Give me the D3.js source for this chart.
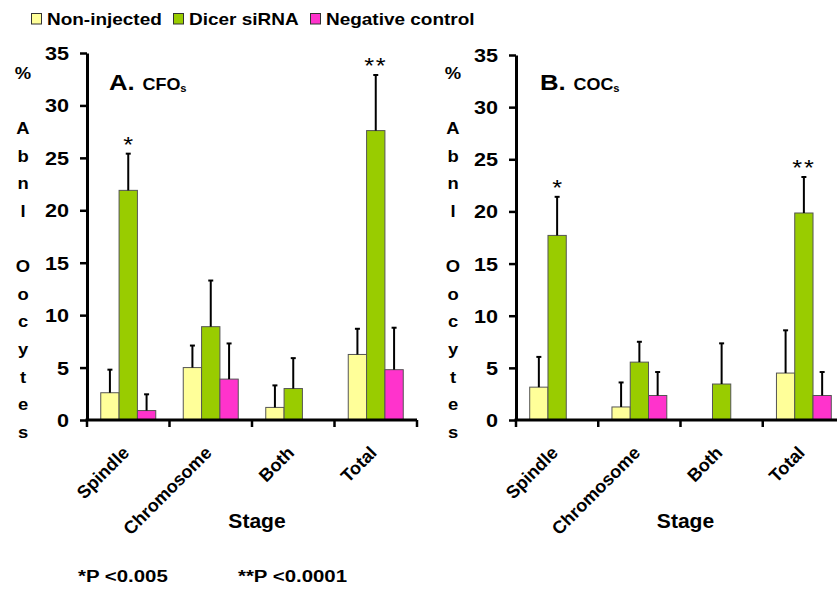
<!DOCTYPE html>
<html><head><meta charset="utf-8">
<script src="https://cdn.jsdelivr.net/npm/d3@7"></script>
<style>
html,body{margin:0;padding:0;background:#fff;}
svg{display:block;font-family:"Liberation Sans",Arial,Helvetica,sans-serif;}
</style></head>
<body><svg id="chart" width="837" height="590"></svg>
<script>
// ---- data ----
const categories = ["Spindle", "Chromosome", "Both", "Total"];
const seriesNames = ["Non-injected", "Dicer siRNA", "Negative control"];
const seriesColors = ["#FFFF99", "#99CC00", "#FF33CC"];
const yTicks = [0, 5, 10, 15, 20, 25, 30, 35];

// Panel A: CFOs
const cfoNonInjected = [2.6, 5.0, 1.2, 6.25];
const cfoDicer       = [21.9, 8.9, 3.0, 27.6];
const cfoNegative    = [0.9, 3.9, 0, 4.8];
const cfoErrNonInjected = [2.2, 2.1, 2.1, 2.45];
const cfoErrDicer       = [3.5, 4.4, 2.9, 5.3];
const cfoErrNegative    = [1.55, 3.4, 0, 4.0];
const cfoSig = ["*", "", "", "**"];

// Panel B: COCs
const cocNonInjected = [3.15, 1.25, 0, 4.5];
const cocDicer       = [17.7, 5.55, 3.45, 19.85];
const cocNegative    = [0, 2.35, 0, 2.35];
const cocErrNonInjected = [2.9, 2.35, 0, 4.1];
const cocErrDicer       = [3.7, 1.95, 3.9, 3.45];
const cocErrNegative    = [0, 2.25, 0, 2.25];
const cocSig = ["*", "", "", "**"];

const yAxisTitle = "% Abnl Oocytes";
const xAxisTitle = "Stage";
const footnotes = ["*P <0.005", "**P <0.0001"];

// ---- layout ----
const svg = d3.select("#chart");
const FONT_SX = 1.15;

function txt(g, x, y, s, o = {}) {
  return g.append("text")
    .attr("transform", `translate(${x},${y}) scale(${o.sx ?? FONT_SX},1)`)
    .attr("text-anchor", o.anchor || "start")
    .attr("font-size", o.size || 16)
    .attr("font-weight", o.weight || "bold")
    .attr("fill", "#000")
    .text(s);
}

const panels = [
  { title: "A.", sub: "CFO", vals: [cfoNonInjected, cfoDicer, cfoNegative],
    errs: [cfoErrNonInjected, cfoErrDicer, cfoErrNegative], sig: cfoSig,
    x0: 87, x1: 417, yTop: 53, yBase: 420, yLabelX: 23, titleDx: 22 },
  { title: "B.", sub: "COC", vals: [cocNonInjected, cocDicer, cocNegative],
    errs: [cocErrNonInjected, cocErrDicer, cocErrNegative], sig: cocSig,
    x0: 516, x1: 845, yTop: 55, yBase: 420, yLabelX: 453, titleDx: 24 }
];

panels.forEach(p => {
  const g = svg.append("g");
  const x = d3.scaleBand().domain(categories).range([p.x0, p.x1]).paddingInner(0).paddingOuter(0);
  const bw = x.bandwidth();
  const x1 = d3.scaleBand().domain(d3.range(seriesNames.length)).range([bw / 6, bw * 5 / 6]).padding(0);
  const y = d3.scaleLinear().domain([0, 35]).range([p.yBase, p.yTop]);

  // bars
  seriesNames.forEach((s, si) => {
    categories.forEach((c, ci) => {
      const v = p.vals[si][ci];
      if (v <= 0) return;
      g.append("rect")
        .attr("x", x(c) + x1(si))
        .attr("y", y(v))
        .attr("width", x1.bandwidth())
        .attr("height", y(0) - y(v))
        .attr("fill", seriesColors[si])
        .attr("stroke", "#555")
        .attr("stroke-width", 1);
    });
  });

  // error bars
  seriesNames.forEach((s, si) => {
    categories.forEach((c, ci) => {
      const v = p.vals[si][ci], e = p.errs[si][ci];
      if (v <= 0 || e <= 0) return;
      const cx = x(c) + x1(si) + x1.bandwidth() / 2;
      g.append("line").attr("x1", cx).attr("x2", cx).attr("y1", y(v)).attr("y2", y(v + e))
        .attr("stroke", "#000").attr("stroke-width", 2);
      g.append("line").attr("x1", cx - 2.5).attr("x2", cx + 2.5).attr("y1", y(v + e)).attr("y2", y(v + e))
        .attr("stroke", "#000").attr("stroke-width", 2);
    });
  });

  // significance markers on Dicer series
  categories.forEach((c, ci) => {
    const m = p.sig[ci];
    if (!m) return;
    const v = p.vals[1][ci] + p.errs[1][ci];
    const cx = x(c) + x1(1) + x1.bandwidth() / 2;
    txt(g, cx, y(v) - 2, m, { size: 22, weight: "normal", anchor: "middle" })
      .attr("letter-spacing", m.length > 1 ? 1.5 : 0);
  });

  // y axis
  const ya = g.append("g").attr("transform", `translate(${p.x0},0)`)
    .call(d3.axisLeft(y).tickValues(yTicks).tickSize(7).tickSizeOuter(0).tickFormat(d => d));
  ya.select(".domain").attr("stroke", "#000").attr("stroke-width", 3);
  ya.selectAll(".tick line").attr("stroke", "#000").attr("stroke-width", 2.5);
  ya.selectAll(".tick text")
    .attr("x", -18 / 1.2).attr("dy", "0.36em")
    .attr("transform", "scale(1.2,1)")
    .attr("font-size", 18).attr("font-weight", "bold")
    .attr("font-family", "'Liberation Sans',Arial,sans-serif")
    .attr("fill", "#000");

  // x axis line + boundary ticks
  g.append("line").attr("x1", p.x0 - 1.5).attr("x2", p.x1).attr("y1", y(0)).attr("y2", y(0))
    .attr("stroke", "#000").attr("stroke-width", 3);
  const bounds = categories.map(c => x(c)).concat([x.range()[1]]);
  bounds.forEach(bx => {
    g.append("line").attr("x1", bx).attr("x2", bx).attr("y1", y(0)).attr("y2", y(0) + 7)
      .attr("stroke", "#000").attr("stroke-width", 2.5);
  });

  // category labels (rotated)
  categories.forEach(c => {
    const cx = x(c) + bw / 2 + 2;
    g.append("text")
      .attr("transform", `translate(${cx},454) rotate(-45)`)
      .attr("text-anchor", "end")
      .attr("font-size", 18).attr("font-weight", "bold")
      .text(c);
  });

  // x axis title
  txt(g, (p.x0 + p.x1) / 2 + 5, 528, xAxisTitle, { size: 19.5, anchor: "middle", sx: 1.08 });

  // y axis title (stacked letters)
  yAxisTitle.split("").forEach((ch, i) => {
    if (ch === " ") return;
    txt(g, p.yLabelX, 79 + i * 27.6, ch, { size: 16, anchor: "middle" });
  });

  // panel title
  const t = g.append("text")
    .attr("transform", `translate(${p.x0 + p.titleDx},90) scale(1.12,1)`)
    .attr("font-weight", "bold");
  t.append("tspan").attr("font-size", 23).text(p.title);
  t.append("tspan").attr("font-size", 16).attr("dx", 7).text(p.sub);
  t.append("tspan").attr("font-size", 10).attr("dy", 2).text("s");
});

// legend
const legX = [31, 173, 310];
seriesNames.forEach((s, i) => {
  svg.append("rect").attr("x", legX[i] + 0.5).attr("y", 13.5).attr("width", 10).attr("height", 10.5)
    .attr("fill", seriesColors[i]).attr("stroke", "#333").attr("stroke-width", 1);
  txt(svg, legX[i] + 16, 25, s, { size: 16.5 });
});

// footnotes
txt(svg, 78, 582, footnotes[0], { size: 17, sx: 1.2 });
txt(svg, 238, 582, footnotes[1], { size: 17, sx: 1.2 });
</script>
</body></html>
